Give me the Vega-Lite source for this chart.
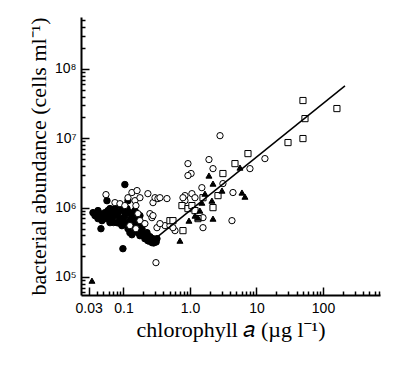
{
  "$schema": "https://vega.github.io/schema/vega-lite/v6.json",
  "width": 299,
  "height": 278,
  "autosize": "none",
  "padding": {"left": 81, "top": 17, "right": 20, "bottom": 70},
  "background": "white",
  "config": {
    "view": {"stroke": null},
    "axis": {
      "grid": false,
      "domainColor": "black",
      "domainWidth": 2,
      "tickColor": "black",
      "tickWidth": 1.5,
      "labelColor": "black",
      "labelFont": "Liberation Sans",
      "labelFontSize": 14,
      "labelOverlap": false,
      "labelFlush": false,
      "titleColor": "black",
      "titleFont": "Liberation Serif",
      "titleFontSize": 22,
      "titleFontWeight": "normal"
    }
  },
  "resolve": {"axis": {"x": "independent", "y": "independent"}},
  "layer": [
    {
      "data": {
        "values": [
          {"group": "filled circle", "chl": 0.0348, "bact": 847000},
          {"group": "filled circle", "chl": 0.0373, "bact": 767000},
          {"group": "filled circle", "chl": 0.0414, "bact": 906000},
          {"group": "filled circle", "chl": 0.0414, "bact": 694000},
          {"group": "filled circle", "chl": 0.0443, "bact": 819000},
          {"group": "filled circle", "chl": 0.0475, "bact": 649000},
          {"group": "filled circle", "chl": 0.0527, "bact": 847000},
          {"group": "filled circle", "chl": 0.0527, "bact": 694000},
          {"group": "filled circle", "chl": 0.0585, "bact": 906000},
          {"group": "filled circle", "chl": 0.0585, "bact": 741000},
          {"group": "filled circle", "chl": 0.0627, "bact": 608000},
          {"group": "filled circle", "chl": 0.0672, "bact": 847000},
          {"group": "filled circle", "chl": 0.0672, "bact": 694000},
          {"group": "filled circle", "chl": 0.0745, "bact": 968000},
          {"group": "filled circle", "chl": 0.0745, "bact": 767000},
          {"group": "filled circle", "chl": 0.0798, "bact": 608000},
          {"group": "filled circle", "chl": 0.0826, "bact": 847000},
          {"group": "filled circle", "chl": 0.0886, "bact": 694000},
          {"group": "filled circle", "chl": 0.0949, "bact": 906000},
          {"group": "filled circle", "chl": 0.0949, "bact": 550000},
          {"group": "filled circle", "chl": 0.105, "bact": 767000},
          {"group": "filled circle", "chl": 0.105, "bact": 608000},
          {"group": "filled circle", "chl": 0.113, "bact": 968000},
          {"group": "filled circle", "chl": 0.117, "bact": 497000},
          {"group": "filled circle", "chl": 0.125, "bact": 847000},
          {"group": "filled circle", "chl": 0.125, "bact": 649000},
          {"group": "filled circle", "chl": 0.139, "bact": 767000},
          {"group": "filled circle", "chl": 0.139, "bact": 550000},
          {"group": "filled circle", "chl": 0.149, "bact": 906000},
          {"group": "filled circle", "chl": 0.149, "bact": 466000},
          {"group": "filled circle", "chl": 0.16, "bact": 649000},
          {"group": "filled circle", "chl": 0.165, "bact": 436000},
          {"group": "filled circle", "chl": 0.177, "bact": 767000},
          {"group": "filled circle", "chl": 0.177, "bact": 394000},
          {"group": "filled circle", "chl": 0.19, "bact": 497000},
          {"group": "filled circle", "chl": 0.203, "bact": 588000},
          {"group": "filled circle", "chl": 0.21, "bact": 357000},
          {"group": "filled circle", "chl": 0.226, "bact": 436000},
          {"group": "filled circle", "chl": 0.233, "bact": 334000},
          {"group": "filled circle", "chl": 0.25, "bact": 382000},
          {"group": "filled circle", "chl": 0.268, "bact": 313000},
          {"group": "filled circle", "chl": 0.278, "bact": 357000},
          {"group": "filled circle", "chl": 0.298, "bact": 334000},
          {"group": "filled circle", "chl": 0.319, "bact": 357000},
          {"group": "filled circle", "chl": 0.0459, "bact": 497000},
          {"group": "filled circle", "chl": 0.0982, "bact": 256000},
          {"group": "filled circle", "chl": 0.105, "bact": 2150000},
          {"group": "filled circle", "chl": 0.0565, "bact": 1260000},
          {"group": "filled circle", "chl": 0.117, "bact": 1260000},
          {"group": "filled circle", "chl": 0.0886, "bact": 1070000},
          {"group": "filled circle", "chl": 0.134, "bact": 407000},
          {"group": "filled circle", "chl": 0.0627, "bact": 968000},
          {"group": "filled circle", "chl": 0.125, "bact": 436000},
          {"group": "filled circle", "chl": 0.039, "bact": 760000},
          {"group": "filled circle", "chl": 0.05, "bact": 760000},
          {"group": "filled circle", "chl": 0.062, "bact": 720000},
          {"group": "filled circle", "chl": 0.071, "bact": 610000},
          {"group": "filled circle", "chl": 0.085, "bact": 600000},
          {"group": "filled circle", "chl": 0.1, "bact": 700000},
          {"group": "filled circle", "chl": 0.11, "bact": 850000},
          {"group": "filled circle", "chl": 0.131, "bact": 700000},
          {"group": "filled circle", "chl": 0.145, "bact": 600000},
          {"group": "filled circle", "chl": 0.168, "bact": 540000},
          {"group": "filled circle", "chl": 0.185, "bact": 430000},
          {"group": "filled circle", "chl": 0.2, "bact": 400000},
          {"group": "filled circle", "chl": 0.24, "bact": 330000},
          {"group": "filled circle", "chl": 0.285, "bact": 310000},
          {"group": "filled circle", "chl": 0.31, "bact": 320000},
          {"group": "open circle", "chl": 0.0546, "bact": 1540000},
          {"group": "open circle", "chl": 0.0745, "bact": 1180000},
          {"group": "open circle", "chl": 0.0886, "bact": 1140000},
          {"group": "open circle", "chl": 0.105, "bact": 1070000},
          {"group": "open circle", "chl": 0.117, "bact": 1390000},
          {"group": "open circle", "chl": 0.134, "bact": 1650000},
          {"group": "open circle", "chl": 0.149, "bact": 1260000},
          {"group": "open circle", "chl": 0.16, "bact": 1760000},
          {"group": "open circle", "chl": 0.177, "bact": 1390000},
          {"group": "open circle", "chl": 0.154, "bact": 1070000},
          {"group": "open circle", "chl": 0.165, "bact": 819000},
          {"group": "open circle", "chl": 0.177, "bact": 649000},
          {"group": "open circle", "chl": 0.233, "bact": 1590000},
          {"group": "open circle", "chl": 0.278, "bact": 1180000},
          {"group": "open circle", "chl": 0.298, "bact": 1390000},
          {"group": "open circle", "chl": 0.33, "bact": 1350000},
          {"group": "open circle", "chl": 0.354, "bact": 1390000},
          {"group": "open circle", "chl": 0.451, "bact": 1350000},
          {"group": "open circle", "chl": 0.25, "bact": 819000},
          {"group": "open circle", "chl": 0.268, "bact": 717000},
          {"group": "open circle", "chl": 0.278, "bact": 767000},
          {"group": "open circle", "chl": 0.319, "bact": 514000},
          {"group": "open circle", "chl": 0.421, "bact": 550000},
          {"group": "open circle", "chl": 0.5, "bact": 550000},
          {"group": "open circle", "chl": 0.595, "bact": 466000},
          {"group": "open circle", "chl": 0.308, "bact": 161000},
          {"group": "open circle", "chl": 0.933, "bact": 4310000},
          {"group": "open circle", "chl": 1.04, "bact": 3100000},
          {"group": "open circle", "chl": 1.93, "bact": 4930000},
          {"group": "open circle", "chl": 2.22, "bact": 3650000},
          {"group": "open circle", "chl": 2.83, "bact": 10900000},
          {"group": "open circle", "chl": 13.4, "bact": 5090000},
          {"group": "open circle", "chl": 7.98, "bact": 3650000},
          {"group": "open circle", "chl": 3.13, "bact": 2220000},
          {"group": "open circle", "chl": 1.51, "bact": 1940000},
          {"group": "open circle", "chl": 4.43, "bact": 1650000},
          {"group": "open circle", "chl": 0.841, "bact": 1490000},
          {"group": "open circle", "chl": 1.07, "bact": 1590000},
          {"group": "open circle", "chl": 1.19, "bact": 1390000},
          {"group": "open circle", "chl": 0.841, "bact": 1260000},
          {"group": "open circle", "chl": 1.57, "bact": 717000},
          {"group": "open circle", "chl": 4.28, "bact": 649000},
          {"group": "open circle", "chl": 0.555, "bact": 514000},
          {"group": "open circle", "chl": 1.57, "bact": 514000},
          {"group": "open circle", "chl": 0.125, "bact": 550000},
          {"group": "open circle", "chl": 0.154, "bact": 497000},
          {"group": "open circle", "chl": 0.21, "bact": 588000},
          {"group": "open circle", "chl": 0.354, "bact": 588000},
          {"group": "open circle", "chl": 0.785, "bact": 1390000},
          {"group": "open circle", "chl": 0.933, "bact": 2900000},
          {"group": "open square", "chl": 0.5, "bact": 649000},
          {"group": "open square", "chl": 0.555, "bact": 649000},
          {"group": "open square", "chl": 0.785, "bact": 466000},
          {"group": "open square", "chl": 0.758, "bact": 1070000},
          {"group": "open square", "chl": 0.933, "bact": 968000},
          {"group": "open square", "chl": 1.07, "bact": 1070000},
          {"group": "open square", "chl": 1.19, "bact": 906000},
          {"group": "open square", "chl": 1.32, "bact": 694000},
          {"group": "open square", "chl": 1.57, "bact": 1390000},
          {"group": "open square", "chl": 2.22, "bact": 1000000},
          {"group": "open square", "chl": 2.64, "bact": 1490000},
          {"group": "open square", "chl": 3.13, "bact": 3100000},
          {"group": "open square", "chl": 4.75, "bact": 4310000},
          {"group": "open square", "chl": 7.45, "bact": 6010000},
          {"group": "open square", "chl": 29.8, "bact": 8670000},
          {"group": "open square", "chl": 50, "bact": 35000000},
          {"group": "open square", "chl": 53.6, "bact": 19200000},
          {"group": "open square", "chl": 50, "bact": 9900000},
          {"group": "open square", "chl": 162, "bact": 26800000},
          {"group": "filled triangle", "chl": 0.0336, "bact": 88500},
          {"group": "filled triangle", "chl": 0.707, "bact": 334000},
          {"group": "filled triangle", "chl": 0.966, "bact": 649000},
          {"group": "filled triangle", "chl": 1.19, "bact": 767000},
          {"group": "filled triangle", "chl": 1.32, "bact": 717000},
          {"group": "filled triangle", "chl": 1.41, "bact": 906000},
          {"group": "filled triangle", "chl": 1.51, "bact": 1180000},
          {"group": "filled triangle", "chl": 1.68, "bact": 1590000},
          {"group": "filled triangle", "chl": 1.93, "bact": 2900000},
          {"group": "filled triangle", "chl": 2.22, "bact": 2220000},
          {"group": "filled triangle", "chl": 2.14, "bact": 1260000},
          {"group": "filled triangle", "chl": 2.22, "bact": 694000},
          {"group": "filled triangle", "chl": 3.03, "bact": 1760000},
          {"group": "filled triangle", "chl": 6.05, "bact": 1650000},
          {"group": "filled triangle", "chl": 6.71, "bact": 1440000},
          {"group": "filled triangle", "chl": 5.65, "bact": 3780000}
        ]
      },
      "mark": {"type": "point", "filled": true, "stroke": "black", "strokeWidth": 1, "opacity": 1},
      "encoding": {
        "x": {
          "field": "chl",
          "type": "quantitative",
          "scale": {"type": "log", "domain": [0.023, 720], "nice": false},
          "axis": {
            "orient": "bottom",
            "title": "chlorophyll 𝑎 (µg l⁻¹)",
            "values": [0.03, 0.1, 1, 10, 100],
            "labelExpr": "datum.value == 0.03 ? '0.03' : datum.value == 0.1 ? '0.1' : datum.value == 1 ? '1.0' : datum.value == 10 ? '10' : '100'",
            "tickSize": -8,
            "labelPadding": 14,
            "titlePadding": 4
          }
        },
        "y": {
          "field": "bact",
          "type": "quantitative",
          "scale": {"type": "log", "domain": [55000, 560000000], "nice": false},
          "axis": {
            "orient": "left",
            "title": "bacterial abundance (cells ml⁻¹)",
            "values": [100000, 1000000, 10000000, 100000000],
            "labelExpr": "'10' + ['⁵', '⁶', '⁷', '⁸'][indexof([100000, 1000000, 10000000, 100000000], datum.value)]",
            "tickSize": -8,
            "labelPadding": 13,
            "titlePadding": 4
          }
        },
        "shape": {"field": "group", "type": "nominal", "scale": {"domain": ["filled circle", "open circle", "open square", "filled triangle"], "range": ["circle", "circle", "square", "triangle-up"]}, "legend": null},
        "fill": {"field": "group", "type": "nominal", "scale": {"domain": ["filled circle", "open circle", "open square", "filled triangle"], "range": ["black", "white", "white", "black"]}, "legend": null},
        "size": {"field": "group", "type": "nominal", "scale": {"domain": ["filled circle", "open circle", "open square", "filled triangle"], "range": [42, 36, 36, 26]}, "legend": null}
      }
    },
    {
      "data": {"values": [{"chl": 0.3, "bact": 357000}, {"chl": 214, "bact": 57000000}]},
      "mark": {"type": "line", "color": "black", "strokeWidth": 1.5},
      "encoding": {
        "x": {
          "field": "chl",
          "type": "quantitative",
          "axis": {
            "orient": "bottom",
            "title": null,
            "labels": false,
            "domain": false,
            "values": [0.04, 0.05, 0.06, 0.07, 0.08, 0.09, 0.2, 0.3, 0.4, 0.5, 0.6, 0.7, 0.8, 0.9, 2, 3, 4, 5, 6, 7, 8, 9, 20, 30, 40, 50, 60, 70, 80, 90, 200, 300, 400, 500, 600, 700],
            "tickSize": -4
          }
        },
        "y": {
          "field": "bact",
          "type": "quantitative",
          "axis": {
            "orient": "left",
            "title": null,
            "labels": false,
            "domain": false,
            "values": [60000, 70000, 80000, 90000, 200000, 300000, 400000, 500000, 600000, 700000, 800000, 900000, 2000000, 3000000, 4000000, 5000000, 6000000, 7000000, 8000000, 9000000, 20000000, 30000000, 40000000, 50000000, 60000000, 70000000, 80000000, 90000000, 200000000, 300000000, 400000000, 500000000],
            "tickSize": -4
          }
        }
      }
    }
  ]
}
